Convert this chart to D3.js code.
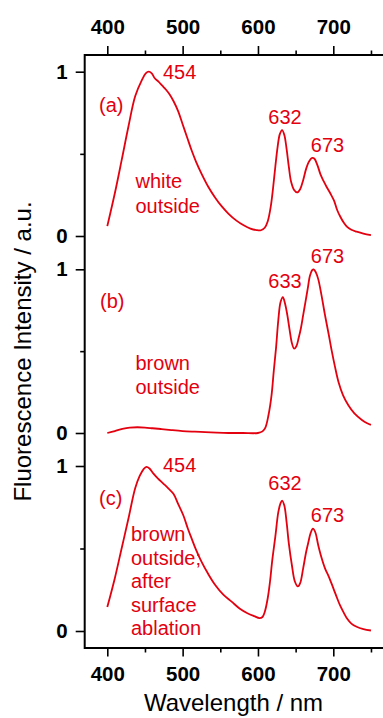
<!DOCTYPE html>
<html>
<head>
<meta charset="utf-8">
<script src="https://cdn.jsdelivr.net/npm/d3@7"></script>
<style>
  body { margin: 0; background: #fff; }
  svg { display: block; font-family: "Liberation Sans", Arial, sans-serif; }
  .tickText text { font-weight: bold; fill: #000; }
  .note { fill: #e3000f; font-size: 20px; }
</style>
</head>
<body>
<div id="chart"></div>
<script>
// emission spectra, three stacked panels

// wavelength / intensity, panel (a) white outside
var wlA = [400, 410, 419, 428, 437, 446, 451, 455, 459, 463, 468, 473, 478, 483, 488, 494, 500, 506, 512, 518,
    525, 534, 543, 552, 561, 571, 581, 590, 598, 604, 609, 613, 617, 620, 623, 626, 629, 632, 635, 638,
    641, 644, 648, 652, 656, 660, 664, 668, 672, 675, 679, 683, 687, 691, 696, 701, 705, 709, 714, 718,
    724, 731, 740, 750];
var intA = [0.06, 0.26, 0.46, 0.665, 0.85, 0.95, 0.99, 1.0, 0.99, 0.96, 0.94, 0.915, 0.89, 0.86, 0.82, 0.76, 0.68, 0.60, 0.52, 0.45,
    0.38, 0.30, 0.235, 0.18, 0.135, 0.095, 0.065, 0.045, 0.036, 0.035, 0.05, 0.09, 0.18, 0.29, 0.42, 0.54, 0.62, 0.645, 0.615, 0.53,
    0.42, 0.33, 0.28, 0.265, 0.285, 0.34, 0.41, 0.455, 0.475, 0.47, 0.43, 0.375, 0.335, 0.30, 0.26, 0.215, 0.16, 0.12, 0.08, 0.057,
    0.038, 0.026, 0.015, 0.005];

// panel (b) brown outside
var wlB = [400, 410, 420, 430, 440, 450, 460, 472, 485, 500, 516, 530, 545, 561, 580, 600, 606, 610, 614, 618,
    621, 624, 627, 630, 633, 636, 639, 642, 645, 648, 651, 654, 657, 660, 663, 666, 669, 672, 674, 677,
    680, 684, 689, 694, 698, 702, 707, 713, 720, 728, 738, 745, 750];
var intB = [0.0, 0.012, 0.025, 0.033, 0.035, 0.033, 0.029, 0.024, 0.018, 0.012, 0.008, 0.005, 0.002, 0.0, 0.0, 0.0, 0.01, 0.035, 0.11, 0.23,
    0.38, 0.52, 0.69, 0.80, 0.83, 0.79, 0.72, 0.63, 0.55, 0.515, 0.53, 0.58, 0.64, 0.72, 0.80, 0.88, 0.96, 0.995, 1.0, 0.98,
    0.94, 0.85, 0.72, 0.60, 0.50, 0.41, 0.31, 0.23, 0.17, 0.12, 0.08, 0.06, 0.05];

// panel (c) brown outside after surface ablation
var wlC = [400, 410, 419, 428, 437, 443, 448, 452, 456, 461, 467, 474, 481, 488, 494, 501, 507, 512, 518, 525,
    534, 543, 554, 565, 576, 586, 595, 602, 606, 609, 613, 616, 619, 623, 627, 630, 632, 635, 638, 641,
    645, 649, 653, 656, 660, 664, 667, 670, 673, 676, 680, 684, 689, 694, 700, 705, 709, 714, 718, 724,
    731, 740, 750];
var intC = [0.145, 0.32, 0.50, 0.68, 0.865, 0.94, 0.98, 0.995, 0.985, 0.955, 0.925, 0.895, 0.865, 0.83, 0.77, 0.70, 0.62, 0.56, 0.49, 0.42,
    0.345, 0.28, 0.22, 0.178, 0.135, 0.108, 0.09, 0.078, 0.085, 0.115, 0.2, 0.30, 0.43, 0.57, 0.72, 0.775, 0.79, 0.76, 0.66, 0.53,
    0.40, 0.30, 0.27, 0.29, 0.38, 0.48, 0.54, 0.595, 0.62, 0.60, 0.52, 0.45, 0.38, 0.33, 0.26, 0.2, 0.155, 0.11, 0.077, 0.045,
    0.026, 0.012, 0.003];

// tick values
var xMajorTicks = [400, 500, 600, 700];
var xMinorTicks = [450, 550, 650, 750];
var yMajorTicks = [0, 1];
var yMinorTicks = [0.5];

// peak labels and panel notes
var panelTags = ["(a)", "(b)", "(c)"];
var peakLabelsA = ["454", "632", "673"];
var peakLabelsB = ["633", "673"];
var peakLabelsC = ["454", "632", "673"];
var noteA = ["white", "outside"];
var noteB = ["brown", "outside"];
var noteC = ["brown", "outside;", "after", "surface", "ablation"];

var svgWidth = 383;
var svgHeight = 718;
var red = "#e3000f";

var svg = d3.select("#chart").append("svg")
    .attr("width", svgWidth)
    .attr("height", svgHeight);

// shared x scale (frame runs on past the right edge of the picture)
var xScale = d3.scaleLinear().domain([370, 790]).range([84.7, 401.1]);
var frameTop = 55;
var frameBottom = 648;

// one y scale per panel
var yScales = [
    d3.scaleLinear().domain([0, 1]).range([236, 71.7]),
    d3.scaleLinear().domain([0, 1]).range([433, 269.3]),
    d3.scaleLinear().domain([0, 1]).range([631, 466])
];

// top axis
svg.append("g")
    .attr("class", "tickText")
    .attr("transform", `translate(0, ${frameTop})`)
    .call(d3.axisTop(xScale).tickValues(xMajorTicks).tickSize(9).tickPadding(12).tickSizeOuter(0));
svg.append("g")
    .attr("transform", `translate(0, ${frameTop})`)
    .call(d3.axisTop(xScale).tickValues(xMinorTicks).tickSize(4.5).tickFormat("").tickSizeOuter(0));

// bottom axis
svg.append("g")
    .attr("class", "tickText")
    .attr("transform", `translate(0, ${frameBottom})`)
    .call(d3.axisBottom(xScale).tickValues(xMajorTicks).tickSize(8.5).tickPadding(10).tickSizeOuter(0));
svg.append("g")
    .attr("transform", `translate(0, ${frameBottom})`)
    .call(d3.axisBottom(xScale).tickValues(xMinorTicks).tickSize(4.5).tickFormat("").tickSizeOuter(0));

// left axis ticks for each panel
yScales.forEach(function (yScale) {
    svg.append("g")
        .attr("class", "tickText")
        .attr("transform", `translate(${xScale(370)}, 0)`)
        .call(d3.axisLeft(yScale).tickValues(yMajorTicks).tickFormat(d3.format("d")).tickSize(9).tickPadding(8).tickSizeOuter(0));
    svg.append("g")
        .attr("transform", `translate(${xScale(370)}, 0)`)
        .call(d3.axisLeft(yScale).tickValues(yMinorTicks).tickSize(4.5).tickFormat("").tickSizeOuter(0));
});

// tidy the axes: drop domain paths, thicker ticks
svg.selectAll(".domain").remove();
svg.selectAll(".tick line").attr("stroke", "#000").attr("stroke-width", 1.6);
svg.selectAll(".tickText text").attr("font-size", 20.5).attr("font-family", "\"Liberation Sans\", Arial, sans-serif");

// frame lines (left, top, bottom)
svg.append("path")
    .attr("d", `M${xScale(790)},${frameTop}H${xScale(370)}V${frameBottom}H${xScale(790)}`)
    .attr("fill", "none")
    .attr("stroke", "#000")
    .attr("stroke-width", 2);

// spectra
var series = [[wlA, intA], [wlB, intB], [wlC, intC]];
series.forEach(function (s, i) {
    var points = s[0].map((w, j) => [w, s[1][j]]);
    var line = d3.line()
        .x(d => xScale(d[0]))
        .y(d => yScales[i](d[1]))
        .curve(d3.curveCatmullRom.alpha(0.5));
    svg.append("path")
        .datum(points)
        .attr("d", line)
        .attr("fill", "none")
        .attr("stroke", red)
        .attr("stroke-width", 1.8);
});

// helper for red notes
function addNote(x, y, txt, anchor) {
    svg.append("text")
        .attr("class", "note")
        .attr("x", x)
        .attr("y", y)
        .attr("text-anchor", anchor || "start")
        .text(txt);
}

// panel tags
addNote(99, 112, panelTags[0]);
addNote(100, 308, panelTags[1]);
addNote(99, 505, panelTags[2]);

// peak labels (a)
addNote(163, 79, peakLabelsA[0]);
addNote(285, 124, peakLabelsA[1], "middle");
addNote(327.5, 151.5, peakLabelsA[2], "middle");

// peak labels (b)
addNote(285, 288, peakLabelsB[0], "middle");
addNote(327.5, 262.5, peakLabelsB[1], "middle");

// peak labels (c)
addNote(163, 472, peakLabelsC[0]);
addNote(285, 490, peakLabelsC[1], "middle");
addNote(327.5, 521.5, peakLabelsC[2], "middle");

// sample notes
noteA.forEach((t, i) => addNote(135.5, 188 + i * 24.5, t));
noteB.forEach((t, i) => addNote(135.5, 370 + i * 23.5, t));
noteC.forEach((t, i) => addNote(131, 541 + i * 23.5, t));

// axis titles
svg.append("text")
    .attr("transform", `translate(31, ${(frameTop + frameBottom) / 2}) rotate(-90)`)
    .attr("text-anchor", "middle")
    .attr("font-size", 24)
    .text("Fluorescence Intensity / a.u.");

svg.append("text")
    .attr("x", 233.5)
    .attr("y", 711)
    .attr("text-anchor", "middle")
    .attr("font-size", 24)
    .text("Wavelength / nm");
</script>
</body>
</html>
